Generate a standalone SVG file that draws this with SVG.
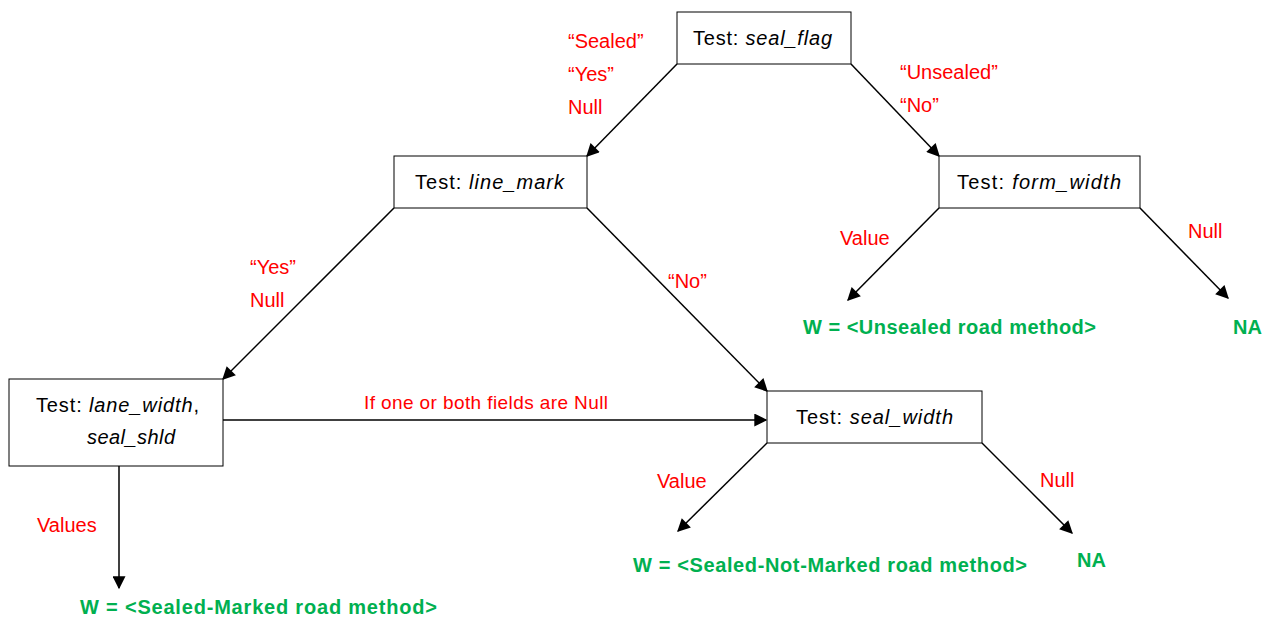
<svg xmlns="http://www.w3.org/2000/svg" width="1271" height="619" viewBox="0 0 1271 619">
  <defs>
    <marker id="arrow" viewBox="0 0 10 10" refX="9" refY="5" markerWidth="15" markerHeight="13" markerUnits="userSpaceOnUse" orient="auto">
      <path d="M0,0 L10,5 L0,10 z" fill="#000"/>
    </marker>
    <style>
      .box { fill: #fff; stroke: #000; stroke-width: 1; }
      .lbl { font-family: "Liberation Sans", Arial, sans-serif; font-size: 20px; fill: #000; }
      .it { font-style: italic; }
      .red { font-family: "Liberation Sans", Arial, sans-serif; font-size: 20px; fill: #FF0000; }
      .green { font-family: "Liberation Sans", Arial, sans-serif; font-size: 20px; font-weight: bold; fill: #00B050; }
      .edge { stroke: #000; stroke-width: 1.5; fill: none; marker-end: url(#arrow); }
    </style>
  </defs>
  <rect width="1271" height="619" fill="#fff"/>

  <g id="connectors">
    <line class="edge" x1="677" y1="64" x2="587" y2="156"/>
    <line class="edge" x1="851" y1="64" x2="939" y2="156"/>
    <line class="edge" x1="394" y1="208" x2="223" y2="379"/>
    <line class="edge" x1="587" y1="208" x2="767" y2="391"/>
    <line class="edge" x1="223" y1="420" x2="766" y2="420"/>
    <line class="edge" x1="119" y1="466" x2="119" y2="588"/>
    <line class="edge" x1="939" y1="208" x2="848" y2="300"/>
    <line class="edge" x1="1140" y1="208" x2="1228" y2="298"/>
    <line class="edge" x1="767" y1="443" x2="678" y2="531"/>
    <line class="edge" x1="982" y1="443" x2="1072" y2="533"/>
  </g>

  <g id="seal_flag">
    <rect class="box" x="677" y="12" width="174" height="52"/>
    <text class="lbl" x="693" y="45" textLength="139">Test: <tspan class="it">seal_flag</tspan></text>
  </g>
  <g id="line_mark">
    <rect class="box" x="394" y="156" width="193" height="52"/>
    <text class="lbl" x="415" y="189" textLength="149">Test: <tspan class="it">line_mark</tspan></text>
  </g>
  <g id="form_width">
    <rect class="box" x="939" y="156" width="201" height="52"/>
    <text class="lbl" x="957" y="189" textLength="164">Test: <tspan class="it">form_width</tspan></text>
  </g>
  <g id="lane_width_seal_shld">
    <rect class="box" x="9" y="379" width="214" height="87"/>
    <text class="lbl" x="36" y="412" textLength="163">Test: <tspan class="it">lane_width</tspan>,</text>
    <text class="lbl it" x="87" y="444" textLength="88">seal_shld</text>
  </g>
  <g id="seal_width">
    <rect class="box" x="767" y="391" width="215" height="52"/>
    <text class="lbl" x="796" y="424" textLength="157">Test: <tspan class="it">seal_width</tspan></text>
  </g>

  <g id="edge-labels">
    <text class="red" x="568" y="48">“Sealed”</text>
    <text class="red" x="568" y="81">“Yes”</text>
    <text class="red" x="568" y="114">Null</text>
    <text class="red" x="900" y="79">“Unsealed”</text>
    <text class="red" x="900" y="112">“No”</text>
    <text class="red" x="250" y="274">“Yes”</text>
    <text class="red" x="250" y="307">Null</text>
    <text class="red" x="668" y="288">“No”</text>
    <text class="red" x="364" y="409" style="font-size:19px" textLength="244">If one or both fields are Null</text>
    <text class="red" x="37" y="532">Values</text>
    <text class="red" x="840" y="245">Value</text>
    <text class="red" x="1188" y="238">Null</text>
    <text class="red" x="657" y="488">Value</text>
    <text class="red" x="1040" y="487">Null</text>
  </g>

  <g id="outcomes">
    <text class="green" x="803" y="334" textLength="293">W = &lt;Unsealed road method&gt;</text>
    <text class="green" x="1233" y="334">NA</text>
    <text class="green" x="633" y="572" textLength="394">W = &lt;Sealed-Not-Marked road method&gt;</text>
    <text class="green" x="1077" y="567">NA</text>
    <text class="green" x="80" y="614" textLength="357">W = &lt;Sealed-Marked road method&gt;</text>
  </g>
</svg>
